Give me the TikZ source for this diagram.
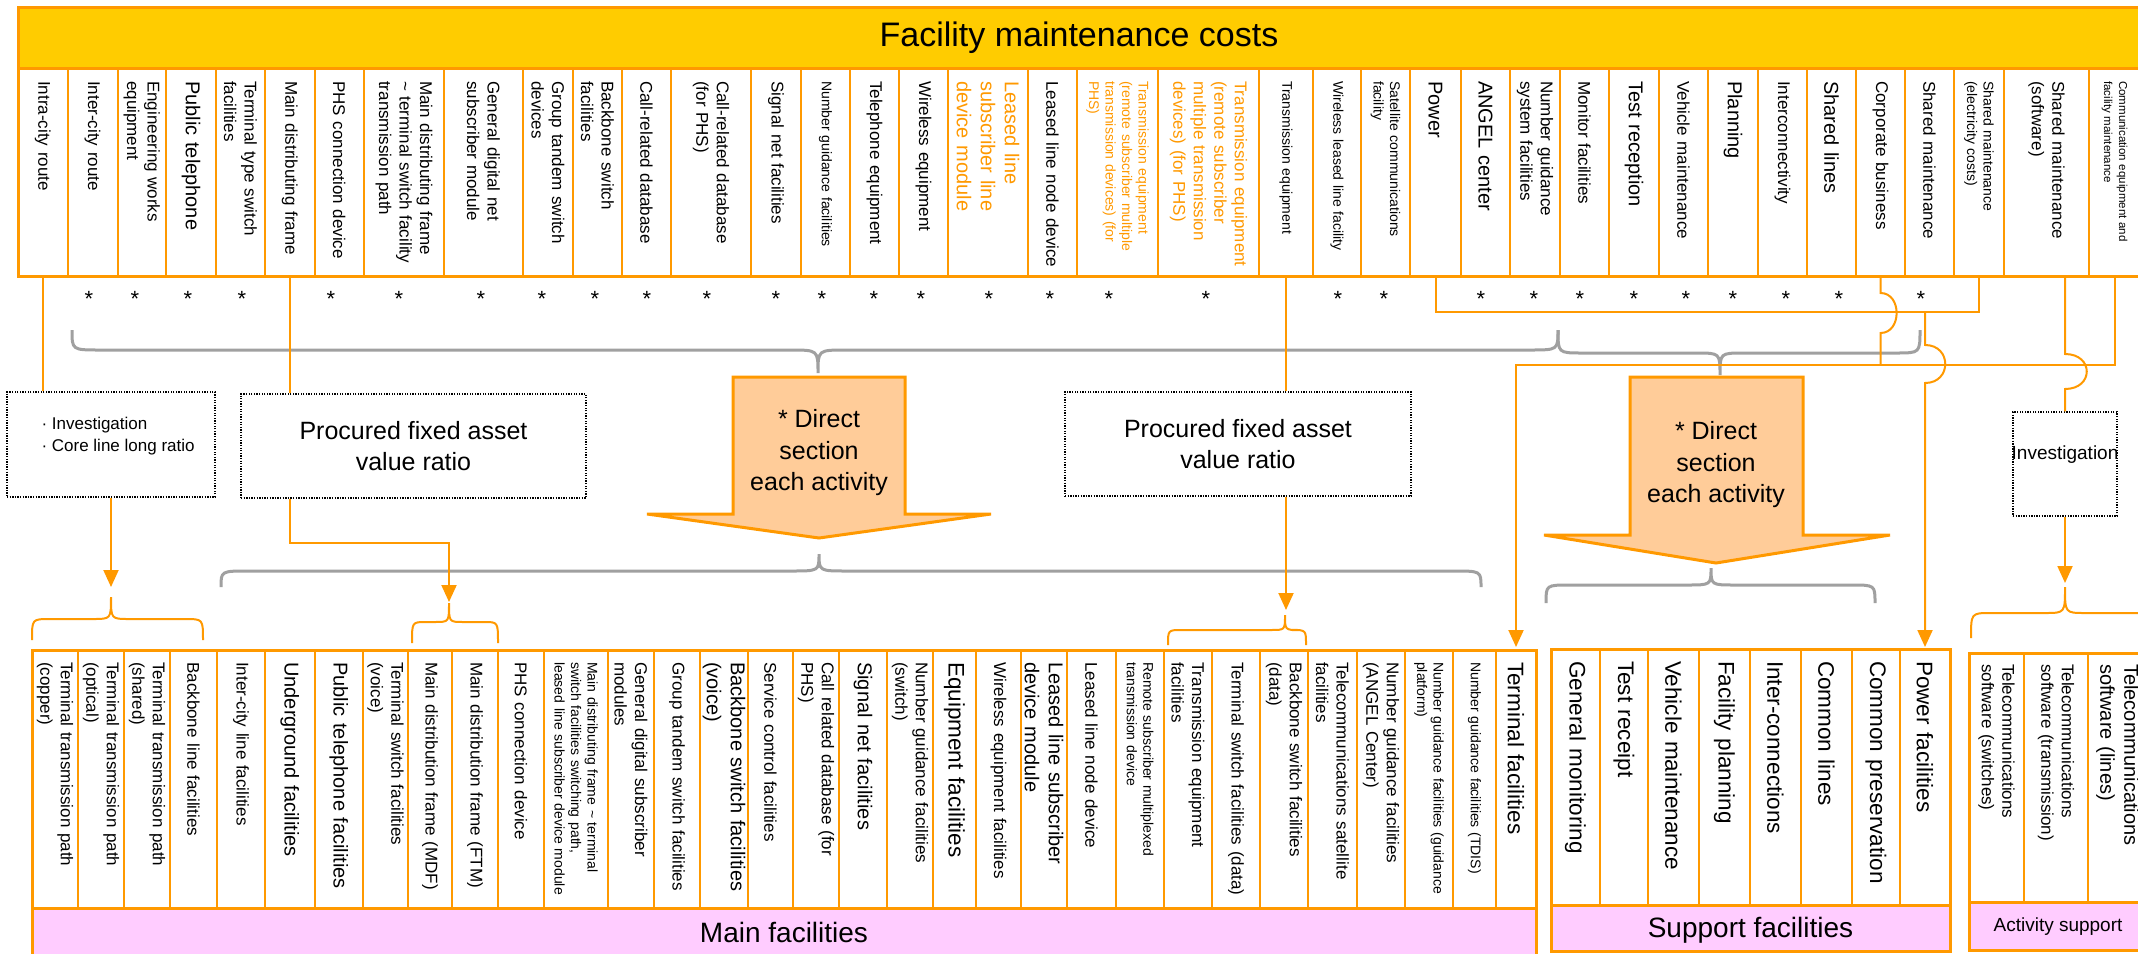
\documentclass[tikz,border=0pt]{standalone}
\usepackage{fontspec}
\setmainfont{Liberation Sans}
\usetikzlibrary{arrows.meta,calc,positioning}
\definecolor{orn}{HTML}{FF9900}
\definecolor{ylw}{HTML}{FFCC00}
\definecolor{pch}{HTML}{FFCC99}
\definecolor{pnk}{HTML}{FFCCFF}
\definecolor{gry}{HTML}{A0A0A0}
\tikzset{>={Triangle[width=15pt,length=17pt]}}
\newcommand{\fXS}{\fontsize{11.5}{15}\selectfont}
\newcommand{\fS}{\fontsize{14}{16.5}\selectfont}
\newcommand{\fM}{\fontsize{17}{20.5}\selectfont}
\newcommand{\fL}{\fontsize{20}{24}\selectfont}
\newcommand{\fXL}{\fontsize{22.5}{27}\selectfont}
\newcommand{\fP}{\fontsize{25}{30.5}\selectfont}
% brace: x1, x2, x of cusp, y of ends, y of line, y of cusp, corner
\newcommand{\brc}[7]{(#1,#4) .. controls (#1,#5) .. (#1+#7,#5) -- (#3-#7,#5) .. controls (#3,#5) .. (#3,#6) .. controls (#3,#5) .. (#3+#7,#5) -- (#2-#7,#5) .. controls (#2,#5) .. (#2,#4)}

\begin{document}
\begin{tikzpicture}[x=1pt, y=-1pt, font=\fM,
		coltext/.style={rotate=-90, anchor=west, inner ysep=1pt, inner xsep=0pt, align=left},
		colline/.style={draw=orn, line width=2pt},
		boxline/.style={draw=orn, line width=3pt},
		dbox/.style={draw=black, line width=1.3pt, dash pattern=on 1.3pt off 1.3pt},
		conn/.style={draw=orn, line width=2pt},
		gbrace/.style={draw=gry, line width=3pt},
		obrace/.style={draw=orn, line width=2pt},
		bigarrow/.style={draw=orn, fill=pch, line width=3pt},
		astx/.style={font=\fontsize{22}{22}\selectfont, inner sep=0pt}]
		\useasboundingbox (0,0) rectangle (2138,953);
		\clip (0,0) rectangle (2138,953);
		\fill[white] (0,0) rectangle (2138,953);

		% cost items
		\draw[boxline, fill=ylw] (18,7) rectangle (2140,68);
		\node[font=\fontsize{34}{40}\selectfont] (title) at (1079,38) {Facility maintenance costs};
		\foreach \n/\xl/\xr/\fs/\tc/\txt in {
			1/18/67.5/M/black/{Intra-city route},
			2/67.5/117.5/M/black/{Inter-city route},
			3/117.5/166/M/black/{Engineering works\\equipment},
			4/166/216/L/black/{Public telephone},
			5/216/265/M/black/{Terminal type switch\\facilities},
			6/265/314.5/M/black/{Main distributing frame},
			7/314.5/364/M/black/{PHS connection device},
			8/364/444/M/black/{Main distributing frame\\\textasciitilde{} terminal switch facility\\transmission path},
			9/444/523/M/black/{General digital net\\subscriber module},
			10/523/573/M/black/{Group tandem switch\\devices},
			11/573/622/M/black/{Backbone switch\\facilities},
			12/622/671/M/black/{Call-related database},
			13/671/751/M/black/{Call-related database\\(for PHS)},
			14/751/801/M/black/{Signal net facilities},
			15/801/850/S/black/{Number guidance facilities},
			16/850/899/M/black/{Telephone equipment},
			17/899/948/M/black/{Wireless equipment},
			18/948/1028/L/orn/{Leased line\\subscriber line\\device module},
			19/1028/1077/M/black/{Leased line node device},
			20/1077/1158/S/orn/{Transmission equipment\\(remote subscriber multiple\\transmission devices) (for\\PHS)},
			21/1158/1259/M/orn/{Transmission equipment\\(remote subscriber\\multiple transmission\\devices) (for PHS)},
			22/1259/1313/S/black/{Transmission equipment},
			23/1313/1361/S/black/{Wireless leased line facility},
			24/1361/1410/S/black/{Satellite communications\\facility},
			25/1410/1461/L/black/{Power},
			26/1461/1510/L/black/{ANGEL center},
			27/1510/1560/M/black/{Number guidance\\system facilities},
			28/1560/1609/M/black/{Monitor facilities},
			29/1609/1659/L/black/{Test reception},
			30/1659/1708/M/black/{Vehicle maintenance},
			31/1708/1758/L/black/{Planning},
			32/1758/1807/M/black/{Interconnectivity},
			33/1807/1856/L/black/{Shared lines},
			34/1856/1905/M/black/{Corporate business},
			35/1905/1954/M/black/{Shared maintenance},
			36/1954/2004/S/black/{Shared maintenance\\(electricity costs)},
			37/2004/2089/M/black/{Shared maintenance\\(software)},
			38/2089/2140/XS/black/{Communication equipment and\\facility maintenance}}
		{
			\draw[colline] (\xl,68) rectangle (\xr,276);
			\node[coltext, font=\csname f\fs\endcsname, text=\tc, text width=190pt, minimum width=200pt] (tc\n) at ({(\xl+\xr)/2},76) {\txt};
		}
		\draw[boxline] (18,7) rectangle (2140,276);
		\coordinate (tb) at (0,276);

		% main facilities
		\foreach \n/\xl/\xr/\fs/\txt in {
			1/32/78/M/{Terminal transmission path\\(copper)},
			2/78/124/M/{Terminal transmission path\\(optical)},
			3/124/170/M/{Terminal transmission path\\(shared)},
			4/170/217/M/{Backbone line facilities},
			5/217/265/M/{Inter-city line facilities},
			6/265/314.5/L/{Underground facilities},
			7/314.5/363/L/{Public telephone facilities},
			8/363/408/M/{Terminal switch facilities (voice)},
			9/408/452/M/{Main distribution frame (MDF)},
			10/452/498/M/{Main distribution frame (FTM)},
			11/498/544/M/{PHS connection device},
			12/544/608/S/{Main distributing frame \textasciitilde{} terminal\\switch facilities switching path,\\leased line subscriber device module},
			13/608/654/M/{General digital subscriber\\modules},
			14/654/700/M/{Group tandem switch facilities},
			15/700/748/L/{Backbone switch facilities\\(voice)},
			16/748/793/M/{Service control facilities},
			17/793/839/M/{Call related database (for\\PHS)},
			18/839/887/L/{Signal net facilities},
			19/887/933/M/{Number guidance facilities\\(switch)},
			20/933/976/XL/{Equipment facilities},
			21/976/1021/M/{Wireless equipment facilities},
			22/1021/1067/L/{Leased line subscriber\\device module},
			23/1067/1116/M/{Leased line node device},
			24/1116/1164/S/{Remote subscriber multiplexed\\transmission device},
			25/1164/1212/M/{Transmission equipment\\facilities},
			26/1212/1260/M/{Terminal switch facilities (data)},
			27/1260/1308/M/{Backbone switch facilities\\(data)},
			28/1308/1357/M/{Telecommunications satellite\\facilities},
			29/1357/1405/M/{Number guidance facilities\\(ANGEL Center)},
			30/1405/1453/S/{Number guidance facilities (guidance\\platform)},
			31/1453/1496/S/{Number guidance facilities (TDIS)},
			32/1496/1536/XL/{Terminal facilities}}
		{
			\draw[colline] (\xl,650) rectangle (\xr,908);
			\node[coltext, font=\csname f\fs\endcsname, text width=236pt] (bc\n) at ({(\xl+\xr)/2},662) {\txt};
		}
		\draw[boxline, fill=pnk] (32,908) rectangle (1536,960);
		\node[font=\fontsize{28}{32}\selectfont] (mainfac) at (784,932) {Main facilities};
		\draw[boxline] (32,650) rectangle (1536,960);
		\coordinate (mt) at (0,649);

		% support facilities
		\foreach \n/\xl/\xr/\txt in {
			1/1551/1600/{General monitoring},
			2/1600/1648/{Test receipt},
			3/1648/1699/{Vehicle maintenance},
			4/1699/1750/{Facility planning},
			5/1750/1801/{Inter-connections},
			6/1801/1852/{Common lines},
			7/1852/1900/{Common preservation},
			8/1900/1950/{Power facilities}}
		{
			\draw[colline] (\xl,649) rectangle (\xr,905);
			\node[coltext, font=\fXL, text width=230pt] (bs\n) at ({(\xl+\xr)/2},661) {\txt};
		}
		\draw[boxline, fill=pnk] (1551,905) rectangle (1950,951);
		\node[font=\fontsize{28}{32}\selectfont] (supfac) at (1750.5,930) {Support facilities};
		\draw[boxline] (1551,649) rectangle (1950,951);

		% activity support
		\foreach \n/\xl/\xr/\fs/\txt in {
			1/1969/2024/M/{Telecommunications\\software (switches)},
			2/2024/2088/M/{Telecommunications\\software (transmission)},
			3/2088/2147/L/{Telecommunications\\software (lines)}}
		{
			\draw[colline] (\xl,653) rectangle (\xr,902);
			\node[coltext, font=\csname f\fs\endcsname, text width=225pt] (ba\n) at ({(\xl+\xr)/2},664) {\txt};
		}
		\draw[boxline, fill=pnk] (1969,902) rectangle (2147,950);
		\node[font=\fontsize{19}{22}\selectfont] (actsup) at (2058,927) {Activity support};
		\draw[boxline] (1969,653) rectangle (2147,950);

		% stars
		\foreach \sx [count=\i] in {89,135,188,242,331,399,481,542,595,647,707,776,822,874,921,989,1050,1109,1206,1338,1384,1481,1534,1580,1634,1686,1733,1786,1839,1921}
			\node[astx] (st\i) at (\sx,299) {*};

		% braces
		\draw[gbrace] \brc{72}{1558}{818}{330}{350}{373}{28};
		\draw[gbrace] \brc{1558}{1920}{1720}{330}{353}{375}{24};
		\draw[gbrace] \brc{221}{1481}{819}{587}{571}{554}{28};
		\draw[gbrace] \brc{1546}{1875}{1711}{603}{585}{568}{24};
		\draw[obrace] \brc{32}{203}{111}{640}{619}{597}{18};
		\draw[obrace] \brc{412}{498}{449}{643}{622}{603}{14};
		\draw[obrace] \brc{1168}{1306}{1285}{645}{630}{615}{14};
		\draw[obrace] \brc{1971}{2200}{2065}{638}{613}{587}{20};
		\coordinate (bL) at (111,597);
		\coordinate (bM) at (449,603);
		\coordinate (bT) at (1285,615);
		\coordinate (bR) at (2065,587);

		% ratio boxes and arrows
		\node[dbox, minimum width=208pt, minimum height=105pt] (inv1) at (111,444.5) {};
		\node[align=left, anchor=west, font=\fontsize{17}{22}\selectfont] (inv1txt) at (38,436) {· Investigation\\· Core line long ratio};
		\node[dbox, minimum width=345pt, minimum height=104pt, align=center, font=\fP] (proc1) at (413.5,446) {Procured fixed asset\\value ratio};
		\node[dbox, minimum width=346pt, minimum height=104pt, align=center, font=\fP] (proc2) at (1238,444) {Procured fixed asset\\value ratio};
		\node[dbox, minimum width=104pt, minimum height=104pt] (inv2) at (2065,464) {};
		\node[font=\fontsize{19}{22}\selectfont, inner sep=0pt] (inv2txt) at (2065,455) {Investigation};

		\draw[bigarrow] (733,377) -- (905,377) -- (905,514) -- (991,514) -- (819,538) -- (647,514) -- (733,514) -- cycle;
		\node[align=center, font=\fontsize{25}{31.5}\selectfont] (dir1) at (819,453) {* Direct\\section\\each activity};
		\draw[bigarrow] (1630,377) -- (1803,377) -- (1803,535) -- (1890,535) -- (1716,563) -- (1544,535) -- (1630,535) -- cycle;
		\node[align=center, font=\fontsize{25}{31.5}\selectfont] (dir2) at (1716,465) {* Direct\\section\\each activity};

		% connectors
		\coordinate (br) at (1700,312);
		\coordinate (hz) at (1516,365);
		\draw[conn] (tc1 |- tb) -- (tc1 |- inv1.north);
		\draw[conn,->,shorten >=10pt] (inv1.south) -- (bL);
		\draw[conn] (tc6 |- tb) -- (tc6 |- proc1.north);
		\draw[conn,->,shorten >=1pt] (tc6 |- proc1.south) -- ++(0,44) -| (bM);
		\draw[conn] (tc22 |- tb) -- (tc22 |- proc2.north);
		\draw[conn,->,shorten >=5pt] (tc22 |- proc2.south) -- (tc22 |- bT);
		\draw[conn] (tc25 |- tb) |- (tc36 |- br) -- (tc36 |- tb);
		\draw[conn] (tc34 |- tb) -- (1880.5,293) .. controls (1902,293) and (1902,333) .. (1880.5,333) -- (tc34 |- hz);
		\draw[conn,->,shorten >=2pt] (tc38 |- tb) |- (hz) -- (bc32 |- mt);
		\draw[conn,->,shorten >=2pt] (bs8 |- br) -- (1925,345) .. controls (1952,345) and (1952,383) .. (1925,383) -- (bs8 |- mt);
		\draw[conn] (inv2.north |- tb) -- (2065,354) .. controls (2094,354) and (2094,389) .. (2065,389) -- (inv2.north);
		\draw[conn,->,shorten >=4pt] (inv2.south) -- (bR);
\end{tikzpicture}
\end{document}
